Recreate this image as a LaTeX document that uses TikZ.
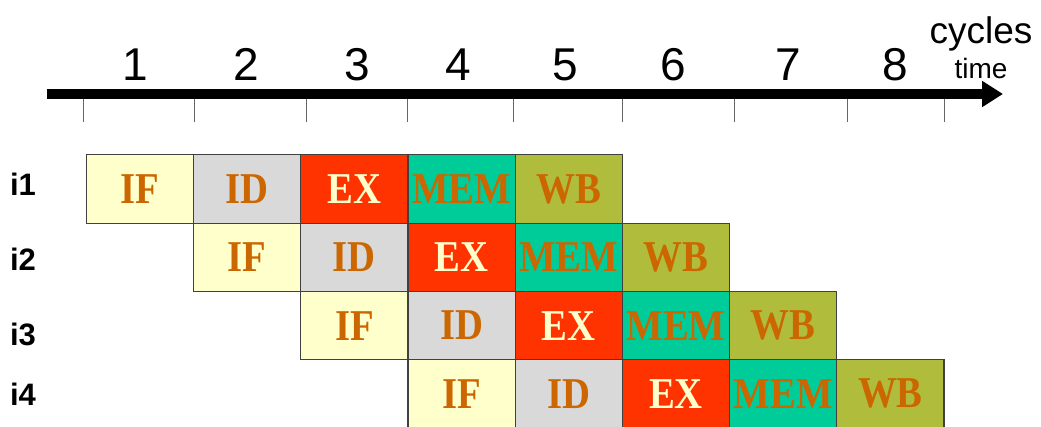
\documentclass[tikz,border=0pt]{standalone}
\usepackage{fontspec}
\setmainfont{Liberation Serif}
\setsansfont{Liberation Sans}
\usepackage{graphicx}
\usetikzlibrary{arrows.meta, positioning}
\definecolor{ifcol}{HTML}{FFFFCC}
\definecolor{idcol}{HTML}{D9D9D9}
\definecolor{excol}{HTML}{FF3300}
\definecolor{memcol}{HTML}{00CC99}
\definecolor{wbcol}{HTML}{B0BC3B}
\definecolor{stagetext}{HTML}{CC6600}
\newcommand{\stg}[1]{\scalebox{0.88}[1]{#1}}
\tikzstyle{stage} = [rectangle, draw=black!75, line width=1.2pt, outer sep=0pt, inner sep=0pt, minimum width=107.2pt, minimum height=68.3pt, text=stagetext, font=\fontsize{44}{44}\selectfont\bfseries]
\tikzstyle{ifstage} = [stage, fill=ifcol]
\tikzstyle{idstage} = [stage, fill=idcol]
\tikzstyle{exstage} = [stage, fill=excol, text=ifcol]
\tikzstyle{memstage} = [stage, fill=memcol]
\tikzstyle{wbstage} = [stage, fill=wbcol]
\tikzstyle{rowlabel} = [font=\sffamily\bfseries\fontsize{31}{31}\selectfont, inner sep=0pt]
\tikzstyle{cyclenum} = [anchor=base, font=\sffamily\fontsize{46}{46}\selectfont, inner sep=0pt]
\tikzstyle{axis} = [line width=10pt, -{Triangle[length=21pt,width=25pt]}]
\tikzstyle{tick} = [line width=1pt, draw=black!60]

\begin{document}
\begin{tikzpicture}[x=1pt, y=1pt, node distance=0pt]
        \useasboundingbox (0,0) rectangle (1041,-426);
        % time axis
        \coordinate (axisstart) at (47,-94);
        \coordinate (axisend) at (1003,-94);
        \draw[axis] (axisstart) -- (axisend);
        \draw[tick] (83,-99) -- (83,-122) (194,-99) -- (194,-122) (306,-99) -- (306,-122)
                    (407,-99) -- (407,-122) (513,-99) -- (513,-122) (622,-99) -- (622,-122)
                    (734,-99) -- (734,-122) (847,-99) -- (847,-122) (944,-99) -- (944,-122);
        \node[cyclenum] (c1) at (135,-80) {1};
        \node[cyclenum] (c2) at (246,-80) {2};
        \node[cyclenum] (c3) at (357,-80) {3};
        \node[cyclenum] (c4) at (458,-80) {4};
        \node[cyclenum] (c5) at (565,-80) {5};
        \node[cyclenum] (c6) at (673,-80) {6};
        \node[cyclenum] (c7) at (788,-80) {7};
        \node[cyclenum] (c8) at (895,-80) {8};
        \node[anchor=base, inner sep=0pt, font=\sffamily\fontsize{37}{37}\selectfont] (cycles) at (981,-43) {cycles};
        \node[anchor=base, inner sep=0pt, font=\sffamily\fontsize{28}{28}\selectfont] (time) at (981,-78) {time};

        % instruction i1
        \node[rowlabel] (l1) at (23,-184) {i1};
        \node[ifstage] (i1if) at (140,-189) {\stg{IF}};
        \node[idstage, right=of i1if] (i1id) {\stg{ID}};
        \node[exstage, right=of i1id] (i1ex) {\stg{EX}};
        \node[memstage, right=of i1ex] (i1mem) {\stg{MEM}};
        \node[wbstage, right=of i1mem] (i1wb) {\stg{WB}};

        % instruction i2
        \node[rowlabel] (l2) at (23,-259) {i2};
        \node[ifstage, below=of i1id] (i2if) {\stg{IF}};
        \node[idstage, right=of i2if] (i2id) {\stg{ID}};
        \node[exstage, right=of i2id] (i2ex) {\stg{EX}};
        \node[memstage, right=of i2ex] (i2mem) {\stg{MEM}};
        \node[wbstage, right=of i2mem] (i2wb) {\stg{WB}};

        % instruction i3
        \node[rowlabel] (l3) at (23,-334) {i3};
        \node[ifstage, below=of i2id] (i3if) {\stg{IF}};
        \node[idstage, right=of i3if] (i3id) {\stg{ID}};
        \node[exstage, right=of i3id] (i3ex) {\stg{EX}};
        \node[memstage, right=of i3ex] (i3mem) {\stg{MEM}};
        \node[wbstage, right=of i3mem] (i3wb) {\stg{WB}};

        % instruction i4
        \node[rowlabel] (l4) at (23,-394) {i4};
        \node[ifstage, below=of i3id] (i4if) {\stg{IF}};
        \node[idstage, right=of i4if] (i4id) {\stg{ID}};
        \node[exstage, right=of i4id] (i4ex) {\stg{EX}};
        \node[memstage, right=of i4ex] (i4mem) {\stg{MEM}};
        \node[wbstage, right=of i4mem] (i4wb) {\stg{WB}};
    \end{tikzpicture}
\end{document}
